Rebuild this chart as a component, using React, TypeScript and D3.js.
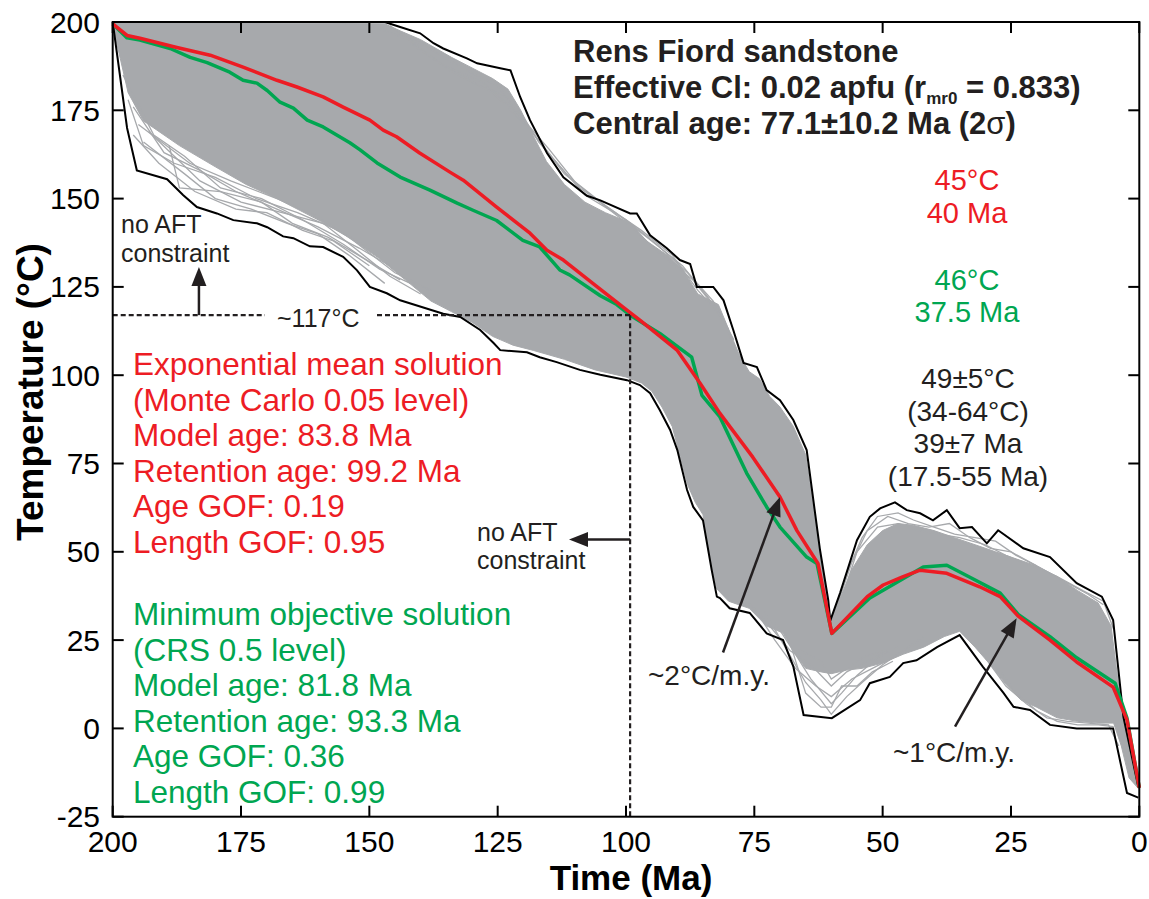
import React from "react";
import * as d3 from "d3";

type P = [number, number];

// ---- axis ticks ----
const xTicks = [200, 175, 150, 125, 100, 75, 50, 25, 0];
const yTicks = [-25, 0, 25, 50, 75, 100, 125, 150, 175, 200];

// ---- envelopes (Ma, °C) ----
const upperEnvelope: P[] = [[200,200],[147,200],[144,198.6],[140.1,196.8],[137.5,194],[135.6,192.5],[131,189.7],[129,188.3],[124.5,186.9],[122.5,186.3],[120.6,178.7],[118.7,172.2],[115.4,162.9],[112.2,156],[107.6,150.8],[105,149.5],[99.2,145.8],[97.9,145.8],[95.3,139.6],[92.1,136],[89.5,132.6],[87.5,131.5],[86.2,125],[83,125],[81,121.2],[79.1,112.8],[77.1,103.5],[74.5,102.3],[72.6,95.8],[70,92.9],[67.4,87.3],[64.8,78.8],[63.5,64.6],[62.2,50.5],[60.6,36.3],[60.2,30.5],[58.3,38.3],[55,53.3],[52.5,59.9],[50.5,62.3],[47.6,64],[45.3,61.8],[42.7,60.9],[40.2,58.9],[37.5,61.8],[35,56.7],[32.6,57],[29.7,52.4],[27.5,56.1],[22.6,51],[17.4,48.5],[12.2,41.1],[7.3,37.3],[5.1,30.7],[3.1,3.3],[0.2,-16.5]];
const lowerEnvelope: P[] = [[200,200],[197.2,170],[195.3,158],[189.4,155.5],[186.3,151],[183.6,147.6],[179.7,145.8],[176.5,143.9],[171.9,143],[169.9,141.9],[166.8,139.3],[164.8,138.8],[161.6,136.5],[159,136.3],[155.1,133.5],[152.4,129.7],[149.9,125],[146.6,123.2],[144,121.2],[135.6,117.4],[132.3,116.5],[128.4,112.8],[125.8,109.1],[124.5,107.1],[119.3,106.5],[116.8,105.1],[113.5,103.7],[109,101.5],[105,100.1],[99.8,98.6],[97.3,97.2],[95.3,94.9],[93.4,90.1],[91.4,84.5],[90,78.8],[88.1,67.5],[86.9,62.7],[85,58.9],[83.3,44.8],[82.3,37.3],[81.7,36.9],[79.8,34],[75.9,32.7],[72.6,26.9],[69.4,25],[67.4,17.5],[65.4,3.8],[59.9,2.9],[54.4,8],[52.5,12.8],[48.6,14.6],[46,18.5],[43.4,19.3],[39.4,23],[35,26.4],[30.5,17.5],[26.5,10.1],[24.5,6.1],[21.3,5.2],[17.4,1],[12.2,0],[5.1,0],[2.4,-18.3],[0.2,-19.6]];

// ---- dense band of accepted paths ----
const denseUpper: P[] = [[200,200],[147,199.5],[144,197.5],[140,195],[137,192.5],[134,190],[130,187],[126,184],[123,181],[120.5,175],[118.5,169],[115.5,160.5],[112,154],[108,149],[104,146],[99,143],[96,138],[92,134],[89,130],[86,123],[82,120],[80,113],[78,106],[76,101],[74,99],[72,94],[70,91],[67.4,85.5],[65,77.5],[63.6,64],[62.3,50],[60.8,36],[60.2,30],[58.5,36],[56,45],[53,52],[50,56],[47,58],[44,57.5],[40,56],[36,54],[32,52],[28,50],[24,48],[20,46],[16,43],[12,39],[8,35.5],[5.5,29],[3.5,6],[2,-3],[0.2,-16.5]];
const denseLower: P[] = [[200,199],[197,180],[194,172],[187,165],[180,159],[174,154],[168,150],[160,144],[154,139],[148,133],[143,127],[138,121],[134,118],[130,115],[126,111],[122,108.5],[118,107],[112,104.5],[106,101.5],[100,99.5],[97,97.8],[95,95.5],[93,91],[91,85.5],[90,80],[88,69],[86.5,64],[85,60.5],[83.5,47],[82.3,39.5],[80,36],[76,34],[72.6,29],[69.4,27],[67,21],[65,17],[62,16],[60,15.5],[57,16.5],[54,17],[50,18.5],[46,21],[42,23],[38,26],[35,27.5],[32,23],[29,18],[26,12.5],[23,8],[20,6],[16,3],[12,2],[8,1.5],[5,1.5],[3.5,-5],[2,-14],[0.2,-17]];

// ---- individual paths in the sparse margins ----
const sparsePaths: P[][] = [
  [[197,178],[194,165],[188,160],[180,156],[172,150],[164,146],[156,141],[150,136]],
  [[196,176],[190,163],[183,158],[176,152],[168,147],[160,142],[152,136],[146,131]],
  [[198,185],[192,168],[186,162],[179,153],[171,150],[163,144],[155,137],[148,130],[142,126]],
  [[189,165],[187,153],[179,152],[171,149],[165,143],[158,139],[151,133],[144,127]],
  [[195,171],[185,160],[177,155],[168,150],[160,145],[153,138],[145,129],[138,124]],
  [[193,169],[183,155],[175,149],[167,146],[159,143],[152,135],[146,128],[140,123]],
  [[196,168],[191,160],[184,152],[176,147],[170,146],[163,141],[157,138],[150,131]],
  [[194,166],[186,157],[180,150],[173,147],[166,143],[160,140],[154,134],[147,126]],
  [[150,199],[140,194],[132,187],[125,182],[120,172],[114,161],[108,151],[100,144],[94,137],[88,129],[83,121],[79,110]],
  [[146,199],[138,190],[130,183],[122,178],[117,166],[111,156],[104,148],[97,141],[91,134],[86,124],[81,116],[78,104]],
  [[144,197],[136,188],[128,183],[121,174],[115,164],[109,153],[102,146],[95,138],[89,131],[84,122],[80,113]],
  [[142,194],[134,186],[126,180],[119,170],[112,157],[106,150],[99,142],[93,134],[87,127],[82,118]],
  [[73,33],[69,23],[65,13],[62,8],[60,4],[57,9],[54,13],[50,18],[46,22],[42,26]],
  [[75,34],[71,25],[67,17],[63,12],[60,9],[56,14],[52,17],[48,20],[44,24]],
  [[71,30],[67,21],[64,14],[60,7],[58,10],[55,15],[51,20],[47,23]],
  [[77,37],[72,29],[68,22],[64,18],[60,12],[57,16],[53,19],[49,22]],
  [[70,29],[66,22],[62,19],[60,14],[57,17],[54,20],[50,22]],
  [[68,24],[65,10],[62,6],[60,6],[58,12],[55,12],[52,16],[48,19]],
  [[60,29],[57,44],[54,54],[51,60],[47,61],[44,59],[40,57],[36,55],[32,54],[28,53],[24,49],[20,46],[15,42],[10,38],[7,35]],
  [[60,30],[56,47],[53,56],[49,60],[45,58],[41,57],[37,58],[33,54],[29,51],[25,50],[20,46]],
  [[59,32],[55,50],[51,57],[47,58],[43,56],[39,55],[35,54],[30,52],[26,49],[21,46],[16,43],[11,39],[7,36],[5,28]],
  [[30,20],[26,12],[22,7],[18,3],[14,2],[10,1.5],[6,1],[4,-5]],
  [[28,18],[24,10],[20,5],[16,2],[12,1],[8,1],[5,0.5]],
];

// ---- best-fit solutions ----
const expMean: P[] = [[200,199.5],[197.2,196.2],[194.7,195.4],[187.5,192.8],[181,190.6],[174.6,187.2],[168,183.5],[164.1,181.6],[159,178.8],[155.1,175.9],[149.9,172.2],[147.3,169.4],[144.7,167.5],[140.2,162.9],[134.3,157.5],[131.7,155.2],[125.2,147.6],[118.7,140.2],[115.4,135.4],[112.2,132.6],[105.6,125],[99.2,117.7],[97.3,115.6],[90,107],[85.6,97.8],[81.7,89.2],[75.3,76.8],[70,65.5],[66.7,56],[62.6,46.7],[59.9,26.9],[53,37.3],[49.9,40.6],[46,43],[42.7,44.8],[37.5,43.9],[31.1,40.1],[27.1,37.3],[23.6,31.8],[17.4,25],[12.2,18.8],[5.1,11.7],[2.4,2.4],[0,-16.8]];
const minObjective: P[] = [[200,199.5],[197.2,195.5],[194.7,194.9],[188.8,192.5],[184.9,190],[181.6,188.5],[177.2,185.8],[174.6,183.5],[171.9,182.7],[169.9,180.6],[167.4,177.3],[164.8,175.6],[162.1,172.2],[159,170.3],[153.8,165.8],[151.8,163.8],[148.5,160.1],[144,156.1],[138.2,152.4],[132.9,148.7],[129.8,146.7],[125.2,143.8],[120.1,138.2],[116.8,136.3],[112.9,129.8],[111,128.4],[105,122.5],[101.8,120],[99.2,117],[93.4,111.8],[87.2,105.1],[85.2,94.3],[81.7,88.2],[76.5,72.3],[72.6,62.7],[70,57],[64.8,48.5],[62.8,46.7],[59.9,26.9],[52.5,36.9],[47.2,41.4],[42.1,45.7],[37.5,46.2],[33,42.8],[27.1,38.3],[23.6,32.3],[17.4,26],[12.2,20],[4.7,12.8],[2.4,2.9],[0,-16.8]];

// ---- text ----
const redLines = ["Exponential mean solution", "(Monte Carlo 0.05 level)", "Model age: 83.8 Ma", "Retention age: 99.2 Ma", "Age GOF: 0.19", "Length GOF: 0.95"];
const greenLines = ["Minimum objective solution", "(CRS 0.5 level)", "Model age: 81.8 Ma", "Retention age: 93.3 Ma", "Age GOF: 0.36", "Length GOF: 0.99"];
const rangeLines = ["49±5°C", "(34-64°C)", "39±7 Ma", "(17.5-55 Ma)"];
const redPeak = ["45°C", "40 Ma"];
const greenPeak = ["46°C", "37.5 Ma"];

const RED = "#ed1c24";
const GREEN = "#00a651";
const GRAY = "#a7a9ac";
const DARK = "#231f20";
const FONT = "'Liberation Sans', Arial, Helvetica, sans-serif";

const x = d3.scaleLinear().domain([200, 0]).range([112.7, 1139.3]);
const y = d3.scaleLinear().domain([-25, 200]).range([816.7, 22]);
const line = d3.line<P>().x((d) => x(d[0])).y((d) => y(d[1]));

function Arrow({ from, to }: { from: P; to: P }) {
  const x1 = x(from[0]), y1 = y(from[1]), x2 = x(to[0]), y2 = y(to[1]);
  const dx = x2 - x1, dy = y2 - y1;
  const len = Math.hypot(dx, dy);
  const ux = dx / len, uy = dy / len;
  const hl = 19, hw = 7.5;
  const bx = x2 - ux * hl, by = y2 - uy * hl;
  const pts = [[x2, y2], [bx - uy * hw, by + ux * hw], [bx + uy * hw, by - ux * hw]];
  return (
    <g>
      <line x1={x1} y1={y1} x2={bx + ux * 2} y2={by + uy * 2} stroke={DARK} strokeWidth={2.5} />
      <polygon points={pts.map((p) => p.join(",")).join(" ")} fill={DARK} />
    </g>
  );
}

export default function App() {
  const densePath = line([...denseUpper, ...denseLower.slice().reverse()]) + "Z";
  const x0 = x(200), x1 = x(0), yTop = y(200), yBot = y(-25);
  return (
    <svg width={1149} height={899} style={{ position: "absolute", left: 0, top: 0, background: "#fff" }} fontFamily={FONT}>
      {/* dense band */}
      <path d={densePath} fill={GRAY} stroke={GRAY} strokeWidth={1} />
      {sparsePaths.map((p, i) => (
        <path key={i} d={line(p) || ""} fill="none" stroke={GRAY} strokeWidth={1.3} />
      ))}
      {/* envelopes */}
      <path d={line(upperEnvelope) || ""} fill="none" stroke="#000" strokeWidth={2} />
      <path d={line(lowerEnvelope) || ""} fill="none" stroke="#000" strokeWidth={2} />
      {/* solutions */}
      <path d={line(minObjective) || ""} fill="none" stroke={GREEN} strokeWidth={3.5} strokeLinejoin="round" />
      <path d={line(expMean) || ""} fill="none" stroke={RED} strokeWidth={3.5} strokeLinejoin="round" />

      {/* dashed constraint lines */}
      <line x1={x0} x2={265} y1={y(117)} y2={y(117)} stroke={DARK} strokeWidth={2.2} strokeDasharray="5,3" />
      <line x1={377} x2={x(99.2)} y1={y(117)} y2={y(117)} stroke={DARK} strokeWidth={2.2} strokeDasharray="5,3" />
      <line x1={x(99.2)} x2={x(99.2)} y1={y(117)} y2={yBot} stroke={DARK} strokeWidth={2.2} strokeDasharray="5,3" />
      <text x={277} y={327} fontSize={25} fill={DARK}>~117°C</text>

      <Arrow from={[183.2, 117]} to={[183.2, 130.6]} />
      <text x={121} y={233} fontSize={25} fill={DARK}>no AFT</text>
      <text x={121} y={262} fontSize={25} fill={DARK}>constraint</text>

      <Arrow from={[99.2, 53.5]} to={[111.1, 53.5]} />
      <text x={477} y={541} fontSize={25} fill={DARK}>no AFT</text>
      <text x={477} y={569} fontSize={25} fill={DARK}>constraint</text>

      <Arrow from={[81.1, 21.5]} to={[70, 65.5]} />
      <text x={648} y={685} fontSize={28} fill={DARK}>~2°C/m.y.</text>
      <Arrow from={[35.9, 0.5]} to={[23.9, 31.2]} />
      <text x={893} y={762} fontSize={28} fill={DARK}>~1°C/m.y.</text>

      {/* frame and ticks */}
      <rect x={x0} y={yTop} width={x1 - x0} height={yBot - yTop} fill="none" stroke="#000" strokeWidth={2} />
      {xTicks.map((t) => (
        <g key={"x" + t}>
          <line x1={x(t)} x2={x(t)} y1={yBot} y2={yBot - 11} stroke="#000" strokeWidth={2} />
          <line x1={x(t)} x2={x(t)} y1={yTop} y2={yTop + 11} stroke="#000" strokeWidth={2} />
          <text x={x(t)} y={852} fontSize={30} textAnchor="middle" fill="#000">{t}</text>
        </g>
      ))}
      {yTicks.map((t) => (
        <g key={"y" + t}>
          <line x1={x0} x2={x0 + 11} y1={y(t)} y2={y(t)} stroke="#000" strokeWidth={2} />
          <line x1={x1} x2={x1 - 11} y1={y(t)} y2={y(t)} stroke="#000" strokeWidth={2} />
          <text x={100} y={y(t) + 10.5} fontSize={30} textAnchor="end" fill="#000">{t}</text>
        </g>
      ))}
      <text x={631} y={890} fontSize={35} fontWeight="bold" textAnchor="middle" fill="#000">Time (Ma)</text>
      <text transform={`translate(43,392) rotate(-90)`} fontSize={37} fontWeight="bold" textAnchor="middle" fill="#000">Temperature (°C)</text>

      {/* title block */}
      <g fill={DARK} fontWeight="bold" fontSize={31}>
        <text x={573} y={62}>Rens Fiord sandstone</text>
        <text x={573} y={98}>
          Effective Cl: 0.02 apfu (r<tspan fontSize={17} dy={6}>mr0</tspan><tspan dy={-6}> = 0.833)</tspan>
        </text>
        <text x={573} y={134}>
          Central age: 77.1±10.2 Ma (2<tspan fontWeight="normal">σ</tspan>)
        </text>
      </g>

      {/* peak annotations */}
      {redPeak.map((s, i) => (
        <text key={"rp" + i} x={967} y={190 + i * 33} fontSize={29} textAnchor="middle" fill={RED}>{s}</text>
      ))}
      {greenPeak.map((s, i) => (
        <text key={"gp" + i} x={967} y={290 + i * 32} fontSize={29} textAnchor="middle" fill={GREEN}>{s}</text>
      ))}
      {rangeLines.map((s, i) => (
        <text key={"rl" + i} x={968} y={388 + i * 32.7} fontSize={28} textAnchor="middle" fill={DARK}>{s}</text>
      ))}

      {/* solution blocks */}
      {redLines.map((s, i) => (
        <text key={"r" + i} x={133} y={375 + i * 35.5} fontSize={31.5} fill={RED}>{s}</text>
      ))}
      {greenLines.map((s, i) => (
        <text key={"g" + i} x={133} y={625 + i * 35.5} fontSize={31.5} fill={GREEN}>{s}</text>
      ))}
    </svg>
  );
}
